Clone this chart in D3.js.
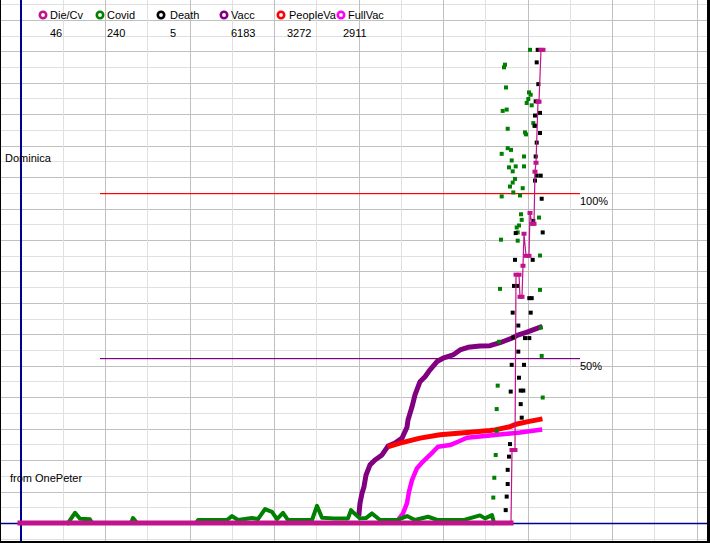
<!DOCTYPE html>
<html><head><meta charset="utf-8">
<script src="https://cdn.jsdelivr.net/npm/d3@7"></script>
<style>
body{margin:0;background:#fff}
svg{display:block}
text{font-family:"Liberation Sans",Arial,sans-serif;font-size:11px;fill:#000}
</style>
</head><body>
<svg id="c" width="710" height="543"></svg>
<script>
// ---------- DATA (x = day index, y = value in chart units where 100 = "100%" line) ----------
const seriesNames  = ["Die/Cv","Covid","Death","Vacc","PeopleVa","FullVac"];
const legendValues = ["46","240","5","6183","3272","2911"];
const refLevels    = [100, 50];
const refLabels    = ["100%","50%"];
const titleText    = "Dominica";
const sourceText   = "from OnePeter";

// Die/Cv (connected points)
const dieCv = [[0,0],[491,0],[492,22.1],[495,22.1],[496,75.2],[499,75.2],[500,68.5],[502,68.5],
  [503,77.9],[504,87.6],[506,80.9],[509,80.9],[510,93.9],[512,90.6],[514,90.6],[515,106.4],
  [516,109.1],[518,127.6],[519,127.6],[521,143.3],[523,143.3]];

// Covid: low values drawn as a continuous band, high values as scattered points
const covidLow = [[48,0],[50,0.9],[55,3.1],[60,1.3],[70,1.1],[72,0],[111,0],[113,1.5],[117,0],
  [176,0],[178,0.9],[207,0.9],[212,2.1],[218,0.9],[232,1.5],[238,1.2],[245,4.2],[252,3.4],
  [257,1.2],[263,3.1],[268,0.9],[282,0.9],[292,0.9],[297,5.2],[302,1.6],[313,1.4],[328,1.4],
  [331,3.9],[334,3.0],[340,1.4],[346,1.5],[352,2.9],[360,0.9],[377,0.9],[387,2.1],[395,0.9],
  [408,1.9],[418,0.9],[430,0.9],[445,1.0],[460,2.3],[465,1.4],[472,2.4],[474,0]];
const covidPts = [[521.7,50.6],[477.7,41.6],[522.7,38.0],[476.7,34.5],[476.7,27.9],[475.7,20.6],
  [474.3,13.7],[473.3,7.7],[481.7,98.9],[493.3,100.1],[500,99.2],[501,93.5],[519,92.5],
  [501.7,91.8],[499,90.1],[496.7,89.5],[497.7,88.0],[481,85.8],[497.7,85.5],[520,81.0],
  [480,70.9],[520,70.6],[520.7,59.2],[479,54.9],[510,143.3],[485,138.8],[484,138.0],
  [486,131.9],[509,130.4],[510.7,129.7],[508.3,128.4],[506.7,127.2],[511.7,126.5],
  [486.7,125.2],[482.7,124.8],[513.3,121.1],[514.3,120.3],[487.7,119.4],[505,118.3],
  [506,117.7],[487.7,113.5],[491,113.0],[481.7,111.8],[504,111.0],[491.7,109.8],[489,107.7],
  [495.7,108.0],[504,108.0],[492.7,106.5],[495,104.2],[492.7,103.1],[490,101.9],[502.7,101.4]];

// Death (scattered points)
const deathPts = [[498.3,51.9],[491.7,47.9],[504,47.9],[499,44.0],[490.7,39.8],[500.7,40.1],
  [503.3,40.1],[500.7,36.0],[501.7,31.9],[490,23.9],[489,20.1],[487.7,16.1],[487.7,11.8],
  [486.7,8.0],[485.7,3.9],[521.7,98.2],[513.3,91.5],[522.7,88.0],[495.7,87.8],[495,79.7],
  [512.7,79.7],[494,71.8],[497.7,71.8],[509.3,68.1],[511.7,68.1],[492.7,63.7],[510.7,63.7],
  [498.3,59.8],[493.3,56.2],[505,56.0],[509.3,56.0],[517.7,143.3],[516.7,139.5],[518.3,132.9],
  [515.7,127.7],[520,124.2],[515,123.4],[515,120.3],[520,118.1],[516.7,115.2],[515.7,111.0],
  [516.7,105.2],[520.7,105.2],[515,103.7]];

// Vacc (doses, %)
const vacc = [[339,2.9],[340,6.0],[342,9.0],[344,11.0],[346,14.5],[350,17.6],[355,19.1],
  [362,20.6],[368,23.3],[375,24.2],[382,25.7],[387,29.0],[388,31.2],[392,35.2],[395,38.8],
  [400,42.8],[405,44.3],[410,46.4],[417,48.9],[423,49.9],[433,50.9],[440,52.4],[448,53.2],
  [460,53.6],[470,53.7],[480,54.6],[492,56.0],[497,56.8],[507,57.8],[520,59.3]];
// PeopleVa (%)
const peopleVa = [[370,23.3],[380,24.2],[400,25.7],[420,26.7],[447,27.4],[470,28.0],[475,28.2],
  [490,29.2],[497,30.0],[508,30.7],[520,31.4]];
// FullVac (%)
const fullVac = [[378,0.9],[383,2.9],[387,6.0],[389,9.5],[392,13.0],[397,16.6],[403,18.6],
  [410,20.6],[418,23.1],[430,23.6],[438,24.6],[447,25.8],[460,26.2],[470,26.5],[487,27.0],
  [500,27.4],[520,28.2]];

// ---------- LAYOUT / STYLE ----------
const W = 710, H = 543;
const colors = {dieCv:"#c0138c", covid:"#008000", death:"#000000", vacc:"#800080", people:"#ff0000", full:"#ff00ff"};
const legendColors = [colors.dieCv, colors.covid, colors.death, colors.vacc, colors.people, colors.full];
const refColors = ["#ff0000", "#800080"];
const legendMarkX = [43, 100, 161, 224, 281, 341];
const legendLabelX = [50, 107, 170, 231, 289, 348];
const legendValueX = [50, 107, 170, 231, 287, 343];

const svg = d3.select("#c");
svg.append("rect").attr("width",W).attr("height",H).attr("fill","#fff");

const x = d3.scaleLinear().domain([0, 690]).range([20, 710]);
const y = d3.scaleLinear().domain([0, 100]).range([523, 192.8]);
const gridStep = 100/21;

// grid
const gGrid = svg.append("g").attr("shape-rendering","crispEdges");
d3.range(-1, 34).forEach(k => {
  const yy = Math.round(y(k*gridStep)) + 0.5;
  gGrid.append("line").attr("x1",0).attr("x2",W).attr("y1",yy).attr("y2",yy)
    .attr("stroke", k%2===0 ? "#c0c0c0" : "#e0e0e0").attr("stroke-width",1);
});
const gx = d3.scaleLinear().domain([0,16]).range([20.5, 696.5]);
d3.range(0, 17).forEach(k => {
  const xx = Math.round(gx(k)) + 0.5;
  gGrid.append("line").attr("y1",0).attr("y2",H).attr("x1",xx).attr("x2",xx)
    .attr("stroke", k%2===0 ? "#c0c0c0" : "#e0e0e0").attr("stroke-width",1);
});

// axes (blue)
svg.append("line").attr("x1",21).attr("x2",21).attr("y1",0).attr("y2",H)
  .attr("stroke","#000090").attr("stroke-width",2).attr("shape-rendering","crispEdges");
svg.append("line").attr("x1",0).attr("x2",W).attr("y1",y(0)+0.5).attr("y2",y(0)+0.5)
  .attr("stroke","#000090").attr("stroke-width",1.5);

// reference lines
refLevels.forEach((lv,i) => {
  const yy = Math.round(y(lv)) + 0.5;
  svg.append("rect").attr("x",100).attr("y",yy-0.5).attr("width",480).attr("height",1.2)
    .attr("fill",refColors[i]);
  svg.append("text").attr("x",580).attr("y",yy+11).text(refLabels[i]);
});

// series
const line = d3.line().x(d => x(d[0])).y(d => y(d[1]));
function band(data, color, w){
  svg.append("path").attr("d", line(data)).attr("fill","none").attr("stroke",color)
    .attr("stroke-width",w).attr("stroke-linejoin","round").attr("stroke-linecap","square");
}
function squares(data, color, w, h){
  svg.append("g").selectAll("rect").data(data).join("rect")
    .attr("x", d => x(d[0]) - w/2).attr("y", d => y(d[1]) - h/2)
    .attr("width", w).attr("height", h).attr("fill", color);
}
band(vacc, colors.vacc, 5);
band(peopleVa, colors.people, 5);
band(fullVac, colors.full, 4.5);
band(covidLow, colors.covid, 4);
squares(covidPts, colors.covid, 4, 4);
squares(deathPts, colors.death, 4, 4);

// Die/Cv: zero run thick, rest thin line with point markers
const dieZero = dieCv.filter(d => d[1] === 0);
band(dieZero, colors.dieCv, 5);
svg.append("path").attr("d", line(dieCv.slice(1))).attr("fill","none")
  .attr("stroke",colors.dieCv).attr("stroke-width",1.2);
squares(dieCv.slice(2), colors.dieCv, 5, 4);

// legend
seriesNames.forEach((nm,i) => {
  svg.append("circle").attr("cx",legendMarkX[i]).attr("cy",15).attr("r",3.2)
    .attr("fill","#fff").attr("stroke",legendColors[i]).attr("stroke-width",2.6);
  svg.append("text").attr("x",legendLabelX[i]).attr("y",19).text(nm);
  svg.append("text").attr("x",legendValueX[i]).attr("y",37).text(legendValues[i]);
});

// labels
svg.append("text").attr("x",5).attr("y",161.5).text(titleText);
svg.append("text").attr("x",10).attr("y",481.5).text(sourceText);

// frame
svg.append("rect").attr("x",0).attr("y",0).attr("width",1).attr("height",H).attr("fill","#000");
svg.append("rect").attr("x",707).attr("y",0).attr("width",3).attr("height",H).attr("fill","#000");
svg.append("rect").attr("x",0).attr("y",541).attr("width",W).attr("height",2).attr("fill","#000");
</script>
</body></html>
